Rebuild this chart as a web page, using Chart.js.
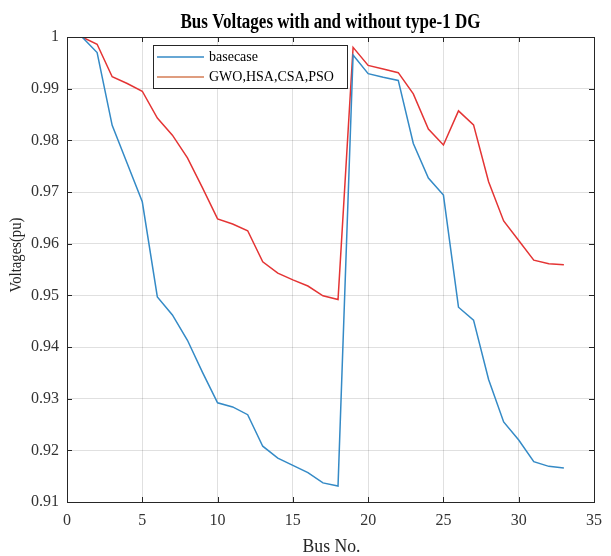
<!DOCTYPE html>
<html>
<head>
<meta charset="utf-8">
<script src="https://cdn.jsdelivr.net/npm/chart.js@4/dist/chart.umd.min.js"></script>
<style>
html,body{margin:0;padding:0;background:#fff;}
#wrap{width:611px;height:556px;position:relative;}
</style>
</head>
<body>
<div id="wrap"><canvas id="c" width="611" height="556"></canvas></div>
<script>
const busNumbers = [1,2,3,4,5,6,7,8,9,10,11,12,13,14,15,16,17,18,19,20,21,22,23,24,25,26,27,28,29,30,31,32,33];
const basecase = [1.0000,0.9970,0.9829,0.9755,0.9681,0.9497,0.9462,0.9413,0.9351,0.9292,0.9284,0.9269,0.9208,0.9185,0.9171,0.9157,0.9137,0.9131,0.9965,0.9929,0.9922,0.9916,0.9794,0.9727,0.9694,0.9477,0.9452,0.9337,0.9255,0.9220,0.9178,0.9169,0.9166];
const optimized = [1.0000,0.9986,0.9923,0.9910,0.9895,0.9843,0.9810,0.9766,0.9708,0.9648,0.9638,0.9625,0.9565,0.9543,0.9530,0.9518,0.9499,0.9492,0.9980,0.9945,0.9938,0.9931,0.9890,0.9822,0.9791,0.9857,0.9830,0.9720,0.9644,0.9606,0.9568,0.9561,0.9559];
const seriesNames = ['basecase','GWO,HSA,CSA,PSO'];
const xTicks = [0,5,10,15,20,25,30,35];
const yTicks = [0.91,0.92,0.93,0.94,0.95,0.96,0.97,0.98,0.99,1];
const titleText = 'Bus Voltages with and without type-1 DG';
const xTitle = 'Bus No.';
const yTitle = 'Voltages(pu)';

const SERIF = '"Liberation Serif","DejaVu Serif",serif';
const blue = 'rgb(52,138,198)';
const red = 'rgb(228,52,52)';
const legendOrange = 'rgb(212,125,85)';

const toPts = (xs, ys) => xs.map((x,i)=>({x:x,y:ys[i]}));

function squeezedText(ctx, text, cx, baseY, font, targetW){
  ctx.save();
  ctx.font = font;
  const w = ctx.measureText(text).width;
  const s = targetW / w;
  ctx.translate(cx, baseY);
  ctx.scale(s, 1);
  ctx.textAlign = 'center';
  ctx.textBaseline = 'alphabetic';
  ctx.fillText(text, 0, 0);
  ctx.restore();
}

const decor = {
  id:'decor',
  afterDraw(chart){
    const ctx = chart.ctx, a = chart.chartArea;
    const xs = chart.scales.x, ys = chart.scales.y;
    ctx.save();
    // box
    ctx.strokeStyle = '#262626';
    ctx.lineWidth = 1;
    ctx.strokeRect(Math.round(a.left)+0.5, Math.round(a.top)+0.5, Math.round(a.right-a.left), Math.round(a.bottom-a.top));
    // inside ticks
    ctx.beginPath();
    xTicks.forEach(v=>{
      const px = Math.round(xs.getPixelForValue(v))+0.5;
      ctx.moveTo(px,a.bottom); ctx.lineTo(px,a.bottom-5);
      ctx.moveTo(px,a.top); ctx.lineTo(px,a.top+5);
    });
    yTicks.forEach(v=>{
      const py = Math.round(ys.getPixelForValue(v))+0.5;
      ctx.moveTo(a.left,py); ctx.lineTo(a.left+5,py);
      ctx.moveTo(a.right,py); ctx.lineTo(a.right-5,py);
    });
    ctx.stroke();
    const cx = (a.left+a.right)/2;
    // title
    ctx.fillStyle = '#000';
    squeezedText(ctx, titleText, cx, 28, 'bold 20px '+SERIF, 300);
    // x title
    ctx.fillStyle = '#262626';
    squeezedText(ctx, xTitle, cx+1, 552, '19px '+SERIF, 58);
    // y title
    ctx.save();
    ctx.translate(21, 255);
    ctx.rotate(-Math.PI/2);
    squeezedText(ctx, yTitle, 0, 0, '17px '+SERIF, 75);
    ctx.restore();
    // legend
    const lx = 153, ly = 45, lw = 194, lh = 43;
    ctx.fillStyle = '#fff';
    ctx.fillRect(lx, ly, lw, lh);
    ctx.lineWidth = 1;
    ctx.strokeStyle = '#262626';
    ctx.strokeRect(lx+0.5, ly+0.5, lw, lh);
    ctx.lineWidth = 1.5;
    ctx.strokeStyle = blue;
    ctx.beginPath(); ctx.moveTo(157,57); ctx.lineTo(204,57); ctx.stroke();
    ctx.strokeStyle = legendOrange;
    ctx.beginPath(); ctx.moveTo(157,77); ctx.lineTo(204,77); ctx.stroke();
    ctx.fillStyle = '#000';
    ctx.font = '14px '+SERIF;
    ctx.textAlign = 'left';
    ctx.textBaseline = 'middle';
    ctx.fillText(seriesNames[0], 209, 57);
    ctx.fillText(seriesNames[1], 209, 77);
    ctx.restore();
  }
};

new Chart(document.getElementById('c'), {
  type:'line',
  data:{
    datasets:[
      {label:seriesNames[0], data:toPts(busNumbers,basecase), borderColor:blue, borderWidth:1.5, pointRadius:0, tension:0, fill:false},
      {label:seriesNames[1], data:toPts(busNumbers,optimized), borderColor:red, borderWidth:1.5, pointRadius:0, tension:0, fill:false}
    ]
  },
  options:{
    responsive:false,
    animation:false,
    layout:{padding:{top:37,right:8,left:0,bottom:0}},
    plugins:{legend:{display:false}, title:{display:false}, tooltip:{enabled:false}},
    scales:{
      x:{
        type:'linear', min:0, max:35,
        afterBuildTicks(s){ s.ticks = xTicks.map(v=>({value:v})); },
        afterFit(s){ s.height = 54; },
        grid:{color:'rgba(0,0,0,0.12)', drawTicks:false},
        border:{display:false},
        ticks:{padding:9, color:'#333', font:{family:SERIF, size:16}, maxRotation:0, callback:v=>String(v)}
      },
      y:{
        type:'linear', min:0.91, max:1,
        afterBuildTicks(s){ s.ticks = yTicks.map(v=>({value:v})); },
        afterFit(s){ s.width = 67; },
        grid:{color:'rgba(0,0,0,0.12)', drawTicks:false},
        border:{display:false},
        ticks:{padding:8, color:'#333', font:{family:SERIF, size:16}, callback:v=>String(Math.round(v*100)/100)}
      }
    }
  },
  plugins:[decor]
});
</script>
</body>
</html>
